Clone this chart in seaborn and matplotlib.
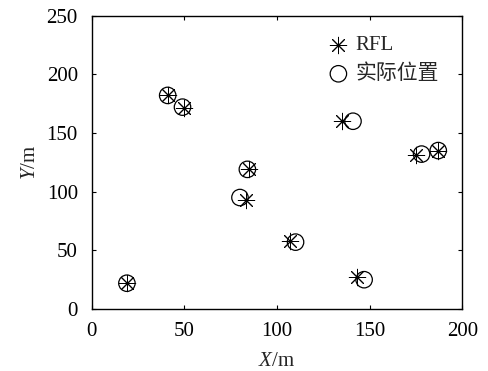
import matplotlib
matplotlib.use("Agg")
import matplotlib.pyplot as plt
import seaborn as sns
import pandas as pd

rfl_x = [19, 41, 50, 85, 83, 107, 135, 143, 175, 187]
rfl_y = [22, 182, 171, 119, 93, 58, 160, 27, 131, 135]
act_x = [19, 41, 49, 84, 80, 110, 141, 147, 178, 187]
act_y = [22, 182, 172, 119, 95, 57, 160, 25, 132, 135]
labels = ["RFL", "实际位置"]

sns.set_theme(style="ticks")
plt.rcParams['font.family'] = ['Liberation Serif', 'Noto Sans CJK SC']
plt.rcParams['mathtext.fontset'] = 'custom'
plt.rcParams['mathtext.it'] = 'Liberation Serif:italic'
plt.rcParams['mathtext.rm'] = 'Liberation Serif'

FS = 15
fig = plt.figure(figsize=(4.89, 3.71), dpi=100)
ax = fig.add_axes([0.1875, 0.167, 0.758, 0.791])

df_r = pd.DataFrame({"x": rfl_x, "y": rfl_y})
df_a = pd.DataFrame({"x": act_x, "y": act_y})

sns.scatterplot(data=df_a, x="x", y="y", ax=ax, marker="o", s=140,
                facecolors="none", edgecolor="black", linewidth=0.9,
                label=labels[1], zorder=3)
sns.scatterplot(data=df_r, x="x", y="y", ax=ax, marker=(8, 2, 0), s=140,
                color="black", linewidth=0.7, label=labels[0], zorder=4)

ax.set_xlim(0, 200)
ax.set_ylim(0, 250)
ax.set_xticks([0, 50, 100, 150, 200])
ax.set_yticks([0, 50, 100, 150, 200, 250])
ax.tick_params(direction="in", top=True, right=True, length=3, width=0.8,
               labelsize=FS, colors="black")
ax.tick_params(axis="x", pad=9)
ax.tick_params(axis="y", pad=10)
for s in ax.spines.values():
    s.set_linewidth(1.0)
    s.set_color("black")
ax.set_xlabel("$X$/m", fontsize=FS, labelpad=8)
ax.set_ylabel("$Y$/m", fontsize=FS, labelpad=5)

h, l = ax.get_legend_handles_labels()
order = [l.index(labels[0]), l.index(labels[1])]
ax.legend([h[i] for i in order], [l[i] for i in order], loc="upper left",
          frameon=False, fontsize=FS, handletextpad=0.3, borderaxespad=0,
          labelspacing=0.45, handlelength=1.0, markerscale=1.0,
          bbox_to_anchor=(0.615, 0.96))

fig.savefig("out.png", dpi=100)
